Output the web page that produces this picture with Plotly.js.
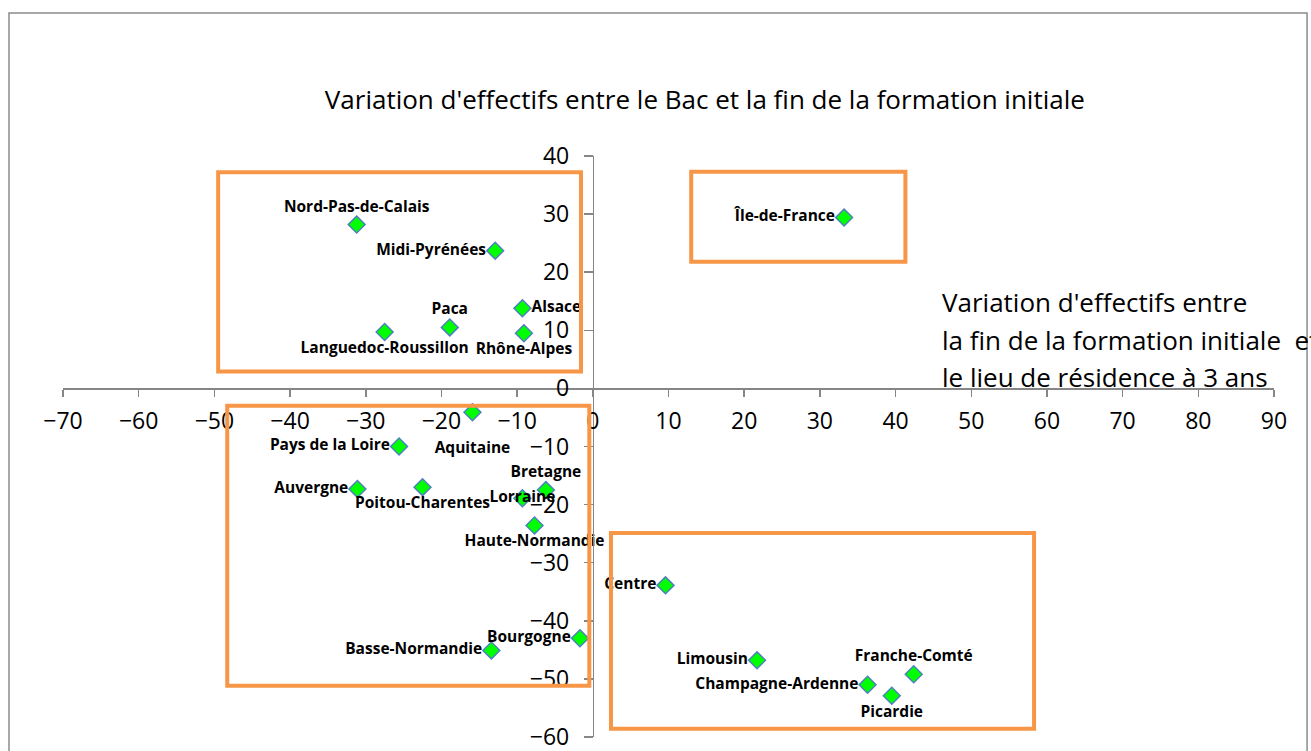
<!DOCTYPE html>
<html>
<head>
<meta charset="utf-8">
<script src="https://cdn.plot.ly/plotly-3.0.1.min.js"></script>
<style>html,body{margin:0;padding:0;background:#fff;}#chart{width:1311px;height:751px;}</style>
</head>
<body>
<div id="chart"></div>
<script>
// Regions
const regions = ["Nord-Pas-de-Calais","Midi-Pyrénées","Alsace","Rhône-Alpes","Paca","Languedoc-Roussillon",
  "Île-de-France","Aquitaine","Pays de la Loire","Auvergne","Poitou-Charentes","Lorraine","Bretagne",
  "Haute-Normandie","Basse-Normandie","Bourgogne","Centre","Limousin","Champagne-Ardenne","Picardie","Franche-Comté"];
// X: variation fin de formation initiale -> lieu de résidence à 3 ans
const xValues = [-31.2,-12.9,-9.3,-9.1,-18.9,-27.5,
  33.2,-15.9,-25.6,-31.1,-22.5,-9.3,-6.2,
  -7.7,-13.4,-1.7,9.6,21.7,36.3,39.5,42.4];
// Y: variation Bac -> fin de formation initiale
const yValues = [28.2,23.7,13.8,9.5,10.5,9.7,
  29.4,-4.1,-10.0,-17.3,-17.0,-18.9,-17.5,
  -23.6,-45.1,-43.0,-33.9,-46.8,-51.0,-52.9,-49.2];
const labelPositions = ["top center","middle left","middle right","bottom center","top center","bottom center",
  "middle left","bottom center","middle left","middle left","bottom center","middle center","top center",
  "bottom center","middle left","middle left","middle left","middle left","middle left","bottom center","top center"];
// labels pushed one line further from their marker
const labelsLowered = ["Aquitaine"];

const chartTitle = "Variation d'effectifs entre le Bac et la fin de la formation initiale";
const xTitleLines = ["Variation d'effectifs entre","la fin de la formation initiale  et","le lieu de résidence à 3 ans"];

const FONT = "Open Sans, Liberation Sans, Arial, sans-serif";
const AXIS = "#868686";
const ORANGE = "#F79646";

const trace = {
  type: "scatter", mode: "markers+text",
  x: xValues, y: yValues,
  text: regions.map(r => labelsLowered.includes(r) ? "<br>" + r : r),
  textposition: labelPositions,
  textfont: {family: FONT, size: 15.5, color: "#000", weight: "bold"},
  marker: {symbol: "diamond", size: 13, color: "#00FF00", line: {color: "#4F81BD", width: 1.5}},
  cliponaxis: false, hoverinfo: "text"
};

function rect(x0, x1, y0, y1) {
  return {type: "rect", xref: "x", yref: "y", x0: x0, x1: x1, y0: y0, y1: y1,
    line: {color: ORANGE, width: 4}, fillcolor: "rgba(0,0,0,0)", layer: "above"};
}

const annotations = xTitleLines.map((t, i) => ({
  xref: "paper", yref: "paper", x: 0.7242, y: [0.7487, 0.6833, 0.6196][i],
  xanchor: "left", yanchor: "middle", showarrow: false, align: "left",
  text: t, font: {family: FONT, size: 26, color: "#000"}
}));

const layout = {
  width: 1311, height: 751,
  margin: {l: 63, r: 37, t: 156, b: 14},
  paper_bgcolor: "#fff", plot_bgcolor: "rgba(0,0,0,0)",
  showlegend: false,
  font: {family: FONT, color: "#000"},
  title: {text: chartTitle, font: {family: FONT, size: 26, color: "#000"},
    xref: "paper", x: 0.53, xanchor: "center", yref: "container", y: 0.867, yanchor: "middle"},
  xaxis: {range: [-70, 90], tick0: 0, dtick: 10, anchor: "free", position: 0.6,
    showline: true, linecolor: AXIS, linewidth: 1.5, ticks: "outside", ticklen: 7, tickwidth: 1.5, tickcolor: AXIS,
    showgrid: false, zeroline: false, tickfont: {family: FONT, size: 23, color: "#000"}, ticklabelstandoff: 4,
    ticklabeloverflow: "allow", fixedrange: true},
  yaxis: {range: [-60, 40], tick0: 0, dtick: 10, anchor: "free", position: 0.4375,
    showline: true, linecolor: AXIS, linewidth: 1.5, ticks: "outside", ticklen: 9, tickwidth: 1.5, tickcolor: AXIS,
    showgrid: false, zeroline: false, tickfont: {family: FONT, size: 23, color: "#000"}, ticklabelstandoff: 10,
    ticklabeloverflow: "allow", fixedrange: true},
  shapes: [
    {type: "rect", xref: "paper", yref: "paper", x0: -0.0446, x1: 1.0273, y0: -0.05, y1: 1.2461,
      line: {color: "#8c8c8c", width: 1.5}, fillcolor: "rgba(0,0,0,0)", layer: "below"},
    rect(-49.5, -1.56, 2.9, 37.2),
    rect(13.0, 41.3, 21.8, 37.3),
    rect(-48.3, -0.46, -51.2, -3.0),
    rect(2.4, 58.3, -58.6, -24.9)
  ],
  annotations: annotations
};

Plotly.newPlot("chart", [trace], layout, {displayModeBar: false, staticPlot: true});
</script>
</body>
</html>
